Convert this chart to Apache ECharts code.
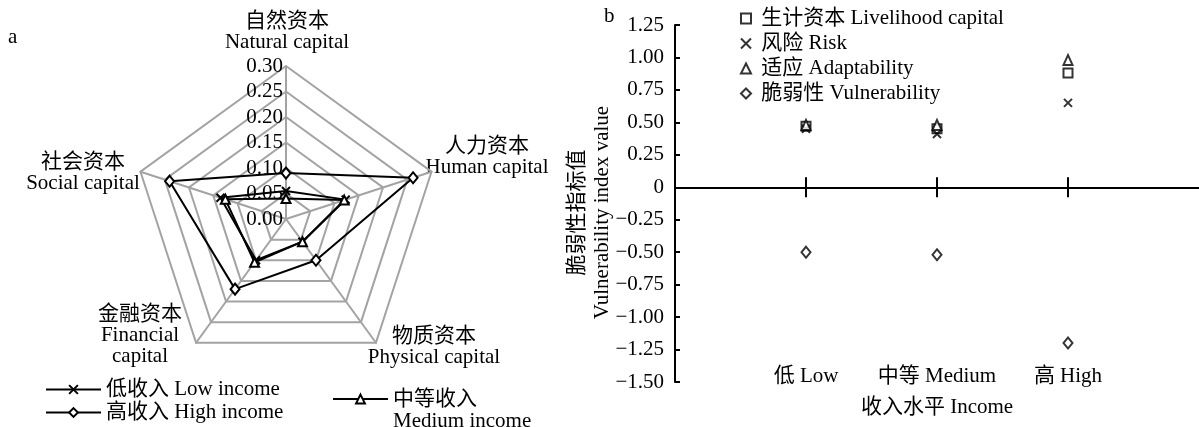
<!DOCTYPE html>
<html>
<head>
<meta charset="utf-8">
<script src="https://cdn.jsdelivr.net/npm/echarts@6/dist/echarts.min.js"></script>
<style>
  html, body { margin: 0; padding: 0; background: #fff; }
  #chart { width: 1199px; height: 427px; }
</style>
</head>
<body>
<div id="chart"></div>
<script>
// ---- Panel a: household capital by income group (radar, counter-clockwise from top) ----
const capitalNames = ['自然资本\nNatural capital', '社会资本\nSocial capital', '金融资本\nFinancial\ncapital', '物质资本\nPhysical capital', '人力资本\nHuman capital'];
const radarTicks = [0, 0.05, 0.10, 0.15, 0.20, 0.25, 0.30];
const lowIncome = [0.055, 0.135, 0.100, 0.055, 0.123];
const mediumIncome = [0.040, 0.125, 0.105, 0.055, 0.120];
const highIncome = [0.090, 0.240, 0.170, 0.100, 0.262];
const incomeGroups = ['低收入 Low income', '中等收入\nMedium income', '高收入 High income'];

// ---- Panel b: vulnerability components by income level ----
const incomeLevels = ['低 Low', '中等 Medium', '高 High'];
const livelihood = [0.47, 0.45, 0.88];
const risk = [0.45, 0.41, 0.65];
const adaptability = [0.48, 0.48, 0.98];
const vulnerability = [-0.50, -0.52, -1.20];
const indexNames = ['生计资本 Livelihood capital', '风险 Risk', '适应 Adaptability', '脆弱性 Vulnerability'];
const valueTicks = [-1.5, -1.25, -1.0, -0.75, -0.5, -0.25, 0, 0.25, 0.5, 0.75, 1.0, 1.25];

const FONT = "'Liberation Serif', 'Noto Sans CJK SC', serif";
const CROSS = 'path://M0,0L10,10M0,10L10,0';
const GRID_GREY = '#a3a3a3';

const hollow = { color: '#fff', borderColor: '#000', borderWidth: 2 };
const txt = (size) => ({ fontFamily: FONT, fontSize: size, color: '#000' });

const chart = echarts.init(document.getElementById('chart'), null, { renderer: 'canvas' });

// anchor points for the radar indicator names (centre x, top y)
const nameAnchors = [[287, 11], [83, 152], [140, 304], [434, 326], [487, 136]];

const fmtValue = (v) => {
  if (Math.abs(v) < 1e-9) return '0';
  const s = Math.abs(v).toFixed(2);
  return v < 0 ? '\u2212' + s : s;
};

const pts = (arr) => arr.map((v, i) => [i + 1, v]);
const yMin = valueTicks[0];
const yMax = valueTicks[valueTicks.length - 1];

const option = {
  backgroundColor: '#fff',
  animation: false,
  textStyle: { fontFamily: FONT },
  graphic: [
    { type: 'text', style: { text: 'a', x: 8, y: 27, font: '21px ' + FONT, fill: '#000' } },
    { type: 'text', style: { text: 'b', x: 604, y: 6, font: '21px ' + FONT, fill: '#000' } }
  ].concat(capitalNames.map((n, i) => ({
    type: 'text',
    style: {
      text: n, x: nameAnchors[i][0], y: nameAnchors[i][1],
      align: 'center', verticalAlign: 'top',
      font: '21px ' + FONT, lineHeight: 21, fill: '#000'
    }
  }))),
  radar: {
    center: [286, 219],
    radius: 153,
    shape: 'polygon',
    splitNumber: radarTicks.length - 1,
    indicator: capitalNames.map(n => ({ name: n, min: radarTicks[0], max: radarTicks[radarTicks.length - 1] })),
    axisName: { show: false },
    axisLine: { lineStyle: { color: GRID_GREY, width: 2 } },
    splitLine: { lineStyle: { color: GRID_GREY, width: 2 } },
    splitArea: { show: false },
    axisTick: { show: false },
    axisLabel: { show: false }
  },
  grid: [
    { left: 675, top: 25, width: 530, height: 357 },
    { left: 675, top: 25, width: 530, height: 338 },
    { left: 286, top: 66, width: 10, height: 153 }
  ],
  xAxis: [
    // zero line with downward ticks
    { gridIndex: 0, type: 'value', min: 0, max: 4, interval: 1, position: 'bottom',
      axisLine: { onZero: true, onZeroAxisIndex: 0, lineStyle: { color: '#000', width: 2 } },
      axisTick: { show: true, customValues: [1, 2, 3], length: 10, lineStyle: { color: '#000', width: 2 } },
      axisLabel: { show: false }, splitLine: { show: false } },
    // upward half of the category ticks
    { gridIndex: 0, type: 'value', min: 0, max: 4, interval: 1, position: 'top',
      axisLine: { show: false, onZero: true, onZeroAxisIndex: 3 },
      axisTick: { show: true, customValues: [1, 2, 3], length: 10, lineStyle: { color: '#000', width: 2 } },
      axisLabel: { show: false }, splitLine: { show: false } },
    // category names and axis title along the bottom
    { gridIndex: 1, type: 'value', min: 0, max: 4, interval: 1, position: 'bottom',
      axisLine: { show: false, onZero: false }, axisTick: { show: false }, splitLine: { show: false },
      axisLabel: Object.assign({ customValues: [1, 2, 3], margin: 3,
        formatter: (v) => incomeLevels[Math.round(v) - 1] || '' }, txt(21)),
      name: '收入水平 Income', nameLocation: 'middle', nameGap: 34, nameMoveOverlap: false, nameTextStyle: txt(21) },
    { gridIndex: 2, type: 'value', show: false, min: 0, max: 1 }
  ],
  yAxis: [
    { gridIndex: 0, type: 'value', min: yMin, max: yMax, interval: 0.25,
      axisLine: { show: true, onZero: false, lineStyle: { color: '#000', width: 2 } },
      axisTick: { show: true, inside: true, length: 5, lineStyle: { color: '#000', width: 2 } },
      axisLabel: Object.assign({ margin: 11, formatter: fmtValue }, txt(21)),
      splitLine: { show: false },
      name: '脆弱性指标值\nVulnerability index value', nameLocation: 'middle', nameGap: 60, nameMoveOverlap: false,
      nameTextStyle: Object.assign({ lineHeight: 25, padding: [0, 18, 0, 0] }, txt(21)) },
    { gridIndex: 1, type: 'value', show: false, min: yMin, max: yMax },
    { gridIndex: 2, type: 'value', min: radarTicks[0], max: radarTicks[radarTicks.length - 1], interval: 0.05,
      axisLine: { show: false }, axisTick: { show: false }, splitLine: { show: false },
      axisLabel: Object.assign({ margin: 3, formatter: (v) => v.toFixed(2) }, txt(21)) },
    { gridIndex: 0, type: 'value', min: yMin, max: yMax, position: 'right',
      axisLine: { show: false, onZero: false }, axisTick: { show: false }, axisLabel: { show: false },
      splitLine: { show: false } }
  ],
  legend: [
    { orient: 'vertical', left: 45, top: 379, padding: 0, itemWidth: 55, itemHeight: 11, itemGap: 2,
      data: [incomeGroups[0], incomeGroups[2]],
      textStyle: Object.assign({ lineHeight: 21 }, txt(21)) },
    { orient: 'vertical', left: 332, top: 366, padding: 0, itemWidth: 55, itemHeight: 11,
      data: [incomeGroups[1]],
      formatter: (name) => '\n' + name,
      textStyle: Object.assign({ lineHeight: 22 }, txt(21)) },
    { orient: 'vertical', left: 740, top: 8, padding: 0, itemWidth: 10, itemHeight: 10, itemGap: 4,
      data: indexNames,
      formatter: (name) => ' ' + name,
      textStyle: Object.assign({ lineHeight: 21 }, txt(21)) }
  ],
  series: [
    { type: 'radar', radarIndex: 0, symbolSize: 9, silent: true,
      lineStyle: { color: '#000', width: 2 },
      itemStyle: hollow,
      data: [
        { name: 'low', value: lowIncome, symbol: CROSS, symbolSize: 8 },
        { name: 'medium', value: mediumIncome, symbol: 'triangle', symbolSize: [9, 9] },
        { name: 'high', value: highIncome, symbol: 'diamond', symbolSize: [9, 11] }
      ] },
    // legend entries for the radar groups (line + marker icons)
    { type: 'line', name: incomeGroups[0], xAxisIndex: 3, yAxisIndex: 2, data: [], symbol: CROSS,
      lineStyle: { color: '#000', width: 2 }, itemStyle: hollow },
    { type: 'line', name: incomeGroups[1], xAxisIndex: 3, yAxisIndex: 2, data: [], symbol: 'triangle',
      lineStyle: { color: '#000', width: 2 }, itemStyle: hollow },
    { type: 'line', name: incomeGroups[2], xAxisIndex: 3, yAxisIndex: 2, data: [], symbol: 'diamond',
      lineStyle: { color: '#000', width: 2 }, itemStyle: hollow },
    // panel b points
    { type: 'scatter', name: indexNames[0], xAxisIndex: 0, yAxisIndex: 0, symbol: 'rect', symbolSize: 9,
      itemStyle: hollow, data: pts(livelihood) },
    { type: 'scatter', name: indexNames[1], xAxisIndex: 0, yAxisIndex: 0, symbol: CROSS, symbolSize: 8,
      itemStyle: hollow, data: pts(risk) },
    { type: 'scatter', name: indexNames[2], xAxisIndex: 0, yAxisIndex: 0, symbol: 'triangle', symbolSize: [9, 10],
      itemStyle: hollow, data: pts(adaptability) },
    { type: 'scatter', name: indexNames[3], xAxisIndex: 0, yAxisIndex: 0, symbol: 'diamond', symbolSize: [9, 11],
      itemStyle: hollow, data: pts(vulnerability) }
  ]
};

chart.setOption(option);
</script>
</body>
</html>
